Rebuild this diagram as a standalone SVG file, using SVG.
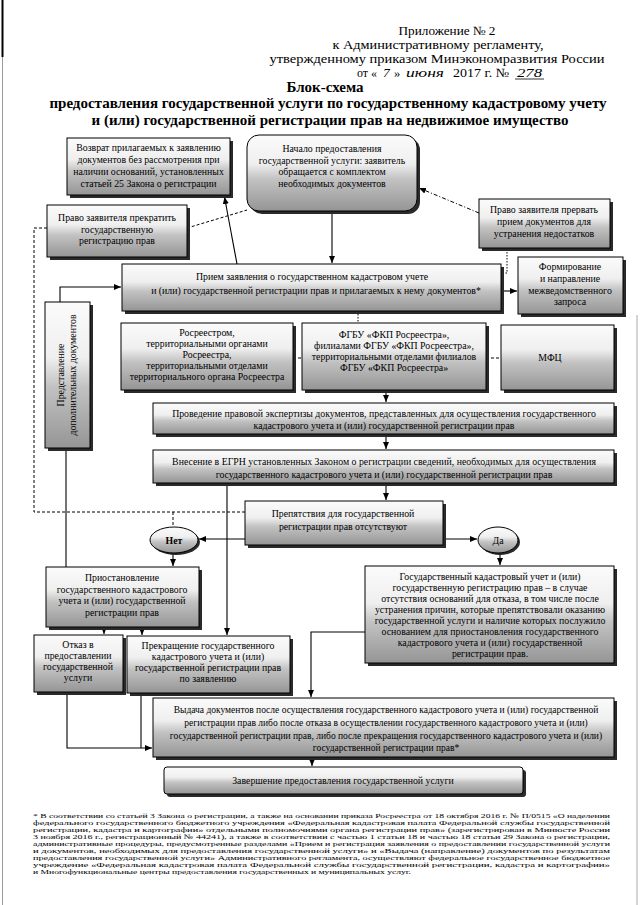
<svg xmlns="http://www.w3.org/2000/svg" width="640" height="905" viewBox="0 0 640 905">
<defs>
<linearGradient id="g" x1="0" y1="0" x2="0" y2="1">
<stop offset="0" stop-color="#fbfbfb"/>
<stop offset="0.38" stop-color="#efefef"/>
<stop offset="0.58" stop-color="#c2c2c2"/>
<stop offset="1" stop-color="#959595"/>
</linearGradient>
<marker id="a" markerWidth="8" markerHeight="8" refX="7" refY="4" orient="auto" markerUnits="userSpaceOnUse">
<path d="M0,1 L7,4 L0,7 z" fill="#000"/>
</marker>
</defs>
<style>
.b{fill:url(#g);stroke:#000;stroke-width:1}
.s{fill:#2a2a2a}
.t{font-family:"Liberation Serif","Times New Roman","DejaVu Serif",serif;font-size:9.8px;text-anchor:middle;fill:#000}
.h{font-family:"Liberation Serif","Times New Roman","DejaVu Serif",serif;font-size:12.6px;fill:#000}
.m{text-anchor:middle}
.hw{font-family:"Liberation Serif","Times New Roman","DejaVu Serif",serif;font-size:13.5px;font-style:italic;fill:#000}
.ti{font-family:"Liberation Serif","Times New Roman","DejaVu Serif",serif;font-size:15px;font-weight:bold;text-anchor:middle;fill:#000}
.f{font-family:"Liberation Serif","Times New Roman","DejaVu Serif",serif;font-size:6.8px;fill:#000}
.c{fill:none;stroke:#000;stroke-width:1.1}
.d{fill:none;stroke:#000;stroke-width:1;stroke-dasharray:3,2}
.dd{fill:none;stroke:#000;stroke-width:1;stroke-dasharray:4,2,1,2}
.dt{fill:none;stroke:#000;stroke-width:1;stroke-dasharray:1.5,1.5}
</style>
<rect width="640" height="905" fill="#fff"/>
<line x1="2.5" y1="0" x2="2.5" y2="905" stroke="#9a9a9a" stroke-width="1"/>
<line x1="2.5" y1="0" x2="2.5" y2="57" stroke="#000" stroke-width="2"/>
<line x1="637" y1="315" x2="637" y2="905" stroke="#aaa" stroke-width="1"/>

<g id="header">
<text class="h m" x="447" y="34.5" textLength="97" lengthAdjust="spacingAndGlyphs">Приложение № 2</text>
<text class="h m" x="438" y="48.5" textLength="211" lengthAdjust="spacingAndGlyphs">к Административному регламенту,</text>
<text class="h m" x="437" y="62.5" textLength="335" lengthAdjust="spacingAndGlyphs">утвержденному приказом Минэкономразвития России</text>
<text class="h" x="357" y="77" textLength="20" lengthAdjust="spacingAndGlyphs">от «</text>
<text class="hw" x="383" y="77">7</text>
<text class="h" x="394" y="77">»</text>
<text class="hw" x="406" y="77" textLength="38" lengthAdjust="spacingAndGlyphs">июня</text>
<text class="h" x="453" y="77" textLength="56" lengthAdjust="spacingAndGlyphs">2017 г. №</text>
<text class="hw" x="517" y="77" textLength="25" lengthAdjust="spacingAndGlyphs">278</text>
<line x1="515" y1="79" x2="544" y2="79" stroke="#000" stroke-width="0.8"/>
<text class="ti" x="325" y="92">Блок-схема</text>
<text class="ti" x="328" y="108">предоставления государственной услуги по государственному кадастровому учету</text>
<text class="ti" x="330" y="125">и (или) государственной регистрации прав на недвижимое имущество</text>
</g>

<g id="connectors">
<line class="c" x1="332" y1="211" x2="332" y2="263" marker-end="url(#a)"/>
<line class="c" x1="237" y1="264" x2="224.5" y2="197" marker-end="url(#a)"/>
<line class="d" x1="187" y1="228" x2="247" y2="210"/>
<line class="dd" x1="479" y1="213" x2="419" y2="188" marker-end="url(#a)"/>
<polyline class="dt" points="507,249 507,273 502,273"/>
<line class="c" x1="501" y1="291" x2="517" y2="291" marker-end="url(#a)"/>
<line class="dt" x1="358" y1="311" x2="358" y2="323"/>
<line class="d" x1="293" y1="358" x2="302" y2="358"/>
<line class="d" x1="486" y1="358" x2="501" y2="358"/>
<line class="c" x1="386" y1="390" x2="386" y2="402" marker-end="url(#a)"/>
<line class="c" x1="386" y1="434" x2="386" y2="449" marker-end="url(#a)"/>
<line class="c" x1="386" y1="483" x2="386" y2="500" marker-end="url(#a)"/>
<line class="c" x1="227" y1="483" x2="227" y2="635" marker-end="url(#a)"/>
<line class="c" x1="245" y1="539" x2="199" y2="539" marker-end="url(#a)"/>
<line class="c" x1="443" y1="539" x2="477" y2="539" marker-end="url(#a)"/>
<line class="c" x1="173" y1="553" x2="173" y2="566" marker-end="url(#a)"/>
<line class="c" x1="500" y1="553" x2="500" y2="565" marker-end="url(#a)"/>
<line class="c" x1="104" y1="627" x2="104" y2="634" marker-end="url(#a)"/>
<line class="c" x1="142" y1="627" x2="142" y2="635" marker-end="url(#a)"/>
<line class="c" x1="66" y1="567" x2="66" y2="448"/>
<polyline class="c" points="60,302 60,287 121,287" marker-end="url(#a)"/>
<polyline class="d" points="47,228 34,228 34,512 245,512"/>
<line class="d" x1="173" y1="512" x2="173" y2="527"/>
<polyline class="c" points="365,632 311,632 311,697" marker-end="url(#a)"/>
<polyline class="c" points="67,692 67,748 152,748" marker-end="url(#a)"/>
<line class="c" x1="141" y1="693" x2="141" y2="748"/>
<line class="c" x1="312" y1="757" x2="312" y2="766" marker-end="url(#a)"/>
</g>

<g id="n1">
<rect class="s" x="70" y="141" width="163" height="57"/>
<rect class="b" x="67" y="138" width="163" height="57"/>
<text class="t" x="148.5" y="151">Возврат прилагаемых к заявлению</text>
<text class="t" x="148.5" y="163">документов без рассмотрения при</text>
<text class="t" x="148.5" y="175">наличии оснований, установленных</text>
<text class="t" x="148.5" y="187">статьей 25 Закона о регистрации</text>
</g>
<g id="n2">
<rect class="s" x="250" y="138" width="170" height="76" rx="12"/>
<rect class="b" x="247" y="135" width="170" height="76" rx="12"/>
<text class="t" x="332" y="152">Начало предоставления</text>
<text class="t" x="332" y="164">государственной услуги: заявитель</text>
<text class="t" x="332" y="175">обращается с комплектом</text>
<text class="t" x="332" y="187">необходимых документов</text>
</g>
<g id="n3">
<rect class="s" x="50" y="208" width="140" height="52"/>
<rect class="b" x="47" y="205" width="140" height="52"/>
<text class="t" x="117" y="221">Право заявителя прекратить</text>
<text class="t" x="117" y="233">государственную</text>
<text class="t" x="117" y="244">регистрацию прав</text>
</g>
<g id="n4">
<rect class="s" x="482" y="202" width="131" height="49"/>
<rect class="b" x="479" y="199" width="131" height="49"/>
<text class="t" x="544" y="213">Право заявителя прервать</text>
<text class="t" x="544" y="225">прием документов для</text>
<text class="t" x="544" y="237">устранения недостатков</text>
</g>
<g id="n5">
<rect class="s" x="125" y="267" width="379" height="47"/>
<rect class="b" x="122" y="264" width="379" height="47"/>
<text class="t" x="312" y="280">Прием заявления о государственном кадастровом учете</text>
<text class="t" x="316" y="294">и (или) государственной регистрации прав и прилагаемых к нему документов*</text>
</g>
<g id="n6">
<rect class="s" x="521" y="260" width="105" height="57"/>
<rect class="b" x="518" y="257" width="105" height="57"/>
<text class="t" x="570" y="270">Формирование</text>
<text class="t" x="570" y="282">и направление</text>
<text class="t" x="570" y="294">межведомственного</text>
<text class="t" x="570" y="305">запроса</text>
</g>
<g id="n7">
<rect class="s" x="48" y="305" width="45" height="146"/>
<rect class="b" x="45" y="302" width="45" height="146"/>
<g transform="translate(67,375) rotate(-90)">
<text class="t" x="0" y="-3">Представление</text>
<text class="t" x="0" y="9">дополнительных документов</text>
</g>
</g>
<g id="n8">
<rect class="s" x="124" y="326" width="172" height="67"/>
<rect class="b" x="121" y="323" width="172" height="67"/>
<text class="t" x="207" y="336">Росреестром,</text>
<text class="t" x="207" y="347">территориальными органами</text>
<text class="t" x="207" y="358">Росреестра,</text>
<text class="t" x="207" y="369">территориальными отделами</text>
<text class="t" x="207" y="380">территориального органа Росреестра</text>
</g>
<g id="n9">
<rect class="s" x="305" y="326" width="184" height="67"/>
<rect class="b" x="302" y="323" width="184" height="67"/>
<text class="t" x="394" y="338">ФГБУ «ФКП Росреестра»,</text>
<text class="t" x="394" y="349">филиалами ФГБУ «ФКП Росреестра»,</text>
<text class="t" x="394" y="360">территориальными отделами филиалов</text>
<text class="t" x="394" y="371">ФГБУ «ФКП Росреестра»</text>
</g>
<g id="n10">
<rect class="s" x="504" y="328" width="113" height="65"/>
<rect class="b" x="501" y="325" width="113" height="65"/>
<text class="t" x="550" y="361">МФЦ</text>
</g>
<g id="n11">
<rect class="s" x="156" y="406" width="461" height="31"/>
<rect class="b" x="153" y="403" width="461" height="31"/>
<text class="t" x="384" y="417">Проведение правовой экспертизы документов, представленных для осуществления государственного</text>
<text class="t" x="384" y="429">кадастрового учета и (или) государственной регистрации прав</text>
</g>
<g id="n12">
<rect class="s" x="156" y="453" width="461" height="33"/>
<rect class="b" x="153" y="450" width="461" height="33"/>
<text class="t" x="384" y="465">Внесение в ЕГРН установленных Законом о регистрации сведений, необходимых для осуществления</text>
<text class="t" x="384" y="478">государственного кадастрового учета и (или) государственной регистрации прав</text>
</g>
<g id="n13">
<rect class="s" x="248" y="504" width="198" height="44"/>
<rect class="b" x="245" y="501" width="198" height="44"/>
<text class="t" x="343" y="517">Препятствия для государственной</text>
<text class="t" x="343" y="530">регистрации прав отсутствуют</text>
</g>
<g id="n14">
<ellipse class="s" cx="176" cy="542" rx="24" ry="13"/>
<ellipse class="b" cx="174" cy="540" rx="24" ry="13"/>
<text class="t" x="174" y="544" font-weight="bold">Нет</text>
</g>
<g id="n15">
<ellipse class="s" cx="500" cy="542" rx="20" ry="13"/>
<ellipse class="b" cx="498" cy="540" rx="20" ry="13"/>
<text class="t" x="498" y="544">Да</text>
</g>
<g id="n16">
<rect class="s" x="49" y="570" width="153" height="60"/>
<rect class="b" x="46" y="567" width="153" height="60"/>
<text class="t" x="122" y="581">Приостановление</text>
<text class="t" x="122" y="593">государственного кадастрового</text>
<text class="t" x="122" y="604">учета и (или) государственной</text>
<text class="t" x="122" y="616">регистрации прав</text>
</g>
<g id="n17">
<rect class="s" x="368" y="569" width="249" height="97"/>
<rect class="b" x="365" y="566" width="249" height="97"/>
<text class="t" x="490" y="580">Государственный кадастровый учет и (или)</text>
<text class="t" x="490" y="591">государственную регистрацию прав – в случае</text>
<text class="t" x="490" y="602">отсутствия оснований для отказа, в том числе после</text>
<text class="t" x="490" y="613">устранения причин, которые препятствовали оказанию</text>
<text class="t" x="490" y="624">государственной услуги и наличие которых послужило</text>
<text class="t" x="490" y="635">основанием для приостановления государственного</text>
<text class="t" x="490" y="646">кадастрового учета и (или) государственной</text>
<text class="t" x="490" y="657">регистрации прав.</text>
</g>
<g id="n18">
<rect class="s" x="37" y="638" width="89" height="57"/>
<rect class="b" x="34" y="635" width="89" height="57"/>
<text class="t" x="78" y="648">Отказ в</text>
<text class="t" x="78" y="659">предоставлении</text>
<text class="t" x="78" y="670">государственной</text>
<text class="t" x="78" y="681">услуги</text>
</g>
<g id="n19">
<rect class="s" x="130" y="639" width="163" height="57"/>
<rect class="b" x="127" y="636" width="163" height="57"/>
<text class="t" x="208" y="649">Прекращение государственного</text>
<text class="t" x="208" y="660">кадастрового учета и (или)</text>
<text class="t" x="208" y="671">государственной регистрации прав</text>
<text class="t" x="208" y="682">по заявлению</text>
</g>
<g id="n20">
<rect class="s" x="156" y="701" width="461" height="59"/>
<rect class="b" x="153" y="698" width="461" height="59"/>
<text class="t" x="386" y="713" style="font-size:9.5px">Выдача документов после осуществления государственного кадастрового учета и (или) государственной</text>
<text class="t" x="386" y="726" style="font-size:9.5px">регистрации прав либо после отказа в осуществлении государственного кадастрового учета и (или)</text>
<text class="t" x="386" y="739" style="font-size:9.5px">государственной регистрации прав, либо после прекращения государственного кадастрового учета и (или)</text>
<text class="t" x="386" y="751" style="font-size:9.5px">государственной регистрации прав*</text>
</g>
<g id="n21">
<rect class="s" x="167" y="770" width="359" height="27" rx="3"/>
<rect class="b" x="164" y="767" width="359" height="27" rx="3"/>
<text class="t" x="343" y="784">Завершение предоставления государственной услуги</text>
</g>

<g id="footnote">
<text class="f" x="33" y="818" textLength="577" lengthAdjust="spacingAndGlyphs">* В соответствии со статьей 3 Закона о регистрации, а также на основании приказа Росреестра от 18 октября 2016 г. № П/0515  «О наделении</text>
<text class="f" x="33" y="825" textLength="577" lengthAdjust="spacingAndGlyphs">федерального государственного бюджетного учреждения «Федеральная кадастровая палата Федеральной службы государственной</text>
<text class="f" x="33" y="832" textLength="577" lengthAdjust="spacingAndGlyphs">регистрации, кадастра и картографии» отдельными полномочиями органа регистрации прав» (зарегистрирован в Минюсте России</text>
<text class="f" x="33" y="839" textLength="577" lengthAdjust="spacingAndGlyphs">3 ноября 2016 г., регистрационный № 44241), а также в соответствии с частью 1 статьи 18 и частью 18 статьи 29 Закона о регистрации,</text>
<text class="f" x="33" y="846" textLength="577" lengthAdjust="spacingAndGlyphs">административные процедуры, предусмотренные разделами «Прием и регистрация заявления о предоставлении государственной услуги</text>
<text class="f" x="33" y="853" textLength="577" lengthAdjust="spacingAndGlyphs">и документов, необходимых для предоставления государственной услуги» и «Выдача (направление) документов по результатам</text>
<text class="f" x="33" y="860" textLength="577" lengthAdjust="spacingAndGlyphs">предоставления государственной услуги» Административного регламента, осуществляют федеральное государственное бюджетное</text>
<text class="f" x="33" y="867" textLength="577" lengthAdjust="spacingAndGlyphs">учреждение «Федеральная кадастровая палата Федеральной службы государственной регистрации, кадастра и картографии»</text>
<text class="f" x="33" y="874" textLength="378" lengthAdjust="spacingAndGlyphs">и Многофункциональные центры предоставления государственных и муниципальных услуг.</text>
</g>
</svg>
